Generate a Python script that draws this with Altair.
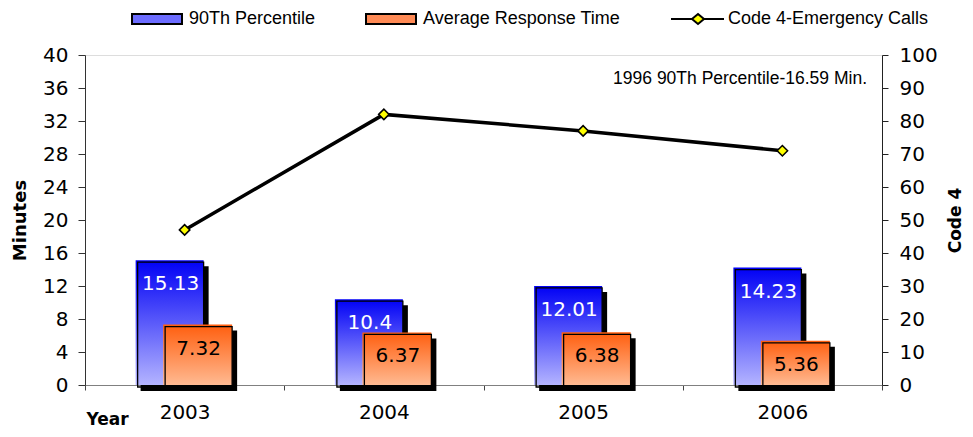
import altair as alt
import pandas as pd

years = ["2003", "2004", "2005", "2006"]
pct90 = [15.13, 10.4, 12.01, 14.23]
avg_resp = [7.32, 6.37, 6.38, 5.36]
code4 = [47, 82, 77, 71]
series_names = ["90Th Percentile", "Average Response Time", "Code 4-Emergency Calls"]
left_ticks = list(range(0, 41, 4))
right_ticks = list(range(0, 101, 10))
note = "1996 90Th Percentile-16.59 Min."

df = pd.DataFrame({
    "year": years,
    "pct90": pct90,
    "avg": avg_resp,
    "code4": code4,
    "pct90_lbl": [str(v) for v in pct90],
    "avg_lbl": [str(v) for v in avg_resp],
})
leg = pd.DataFrame({"series": series_names})
note_df = pd.DataFrame({"t": [note]})

W, H = 797, 330
NUM_FONT = "DejaVu Sans"
TXT_FONT = "Liberation Sans"

x_enc = alt.X(
    "year:N", sort=years, title="Year",
    scale=alt.Scale(paddingInner=0, paddingOuter=0),
    axis=alt.Axis(labelAngle=0, tickBand="extent", tickSize=5, labelPadding=12,
                  labelFont=NUM_FONT, labelFontSize=20, labelColor="#000",
                  domainColor="#808080", tickColor="#444",
                  titleFont=NUM_FONT, titleFontSize=17, titleFontWeight="bold",
                  titleX=22, titleY=34, titleAlign="center", titleBaseline="middle",
                  titleColor="#000"),
)

axis_left = alt.Axis(values=left_ticks, title="Minutes", grid=False, tickSize=7, labelPadding=10,
                     labelFont=NUM_FONT, labelFontSize=20, labelColor="#000",
                     domainColor="#333", tickColor="#333",
                     titleFont=NUM_FONT, titleFontSize=18, titleFontWeight="bold", titleColor="#000",
                     titleX=-65, titleY=H / 2, titleAngle=270, titleAlign="center",
                     titleBaseline="middle")
ys = alt.Scale(domain=[0, 40], nice=False)

def yl(field):
    return alt.Y(field, scale=ys, axis=axis_left)

blue_grad = alt.Gradient(gradient="linear", x1=0, x2=0, y1=0, y2=1,
                         stops=[alt.GradientStop(offset=0, color="#0000F5"),
                                alt.GradientStop(offset=1, color="#B4B4FF")])
orange_grad = alt.Gradient(gradient="linear", x1=0, x2=0, y1=0, y2=1,
                           stops=[alt.GradientStop(offset=0, color="#FF5E0E"),
                                  alt.GradientStop(offset=1, color="#FFBA92")])

base = alt.Chart(df)
BX, OX = -15, 13
BW, OW = 68, 69

blue_shadow = base.mark_bar(color="black", size=BW, xOffset=BX + 5, yOffset=6, y2Offset=0).encode(x=x_enc, y=yl("pct90:Q"))
blue_bar = base.mark_bar(color=blue_grad, size=BW, xOffset=BX).encode(x=x_enc, y=yl("pct90:Q"))
blue_outline = base.mark_bar(filled=False, stroke="black", strokeWidth=1.3, size=BW - 2,
                             xOffset=BX + 1, yOffset=2, y2Offset=0).encode(x=x_enc, y=yl("pct90:Q"))
orange_shadow = base.mark_bar(color="black", size=OW, xOffset=OX + 5, yOffset=6, y2Offset=0).encode(x=x_enc, y=yl("avg:Q"))
orange_bar = base.mark_bar(color=orange_grad, size=OW, xOffset=OX).encode(x=x_enc, y=yl("avg:Q"))
orange_outline = base.mark_bar(filled=False, stroke="black", strokeWidth=1.3, size=OW - 2,
                               xOffset=OX + 1, yOffset=2, y2Offset=0).encode(x=x_enc, y=yl("avg:Q"))
blue_text = base.mark_text(color="white", font=NUM_FONT, fontSize=20, baseline="middle",
                           dy=24, xOffset=BX + 1).encode(x=x_enc, y=yl("pct90:Q"), text="pct90_lbl:N")
orange_text = base.mark_text(color="black", font=NUM_FONT, fontSize=20, baseline="middle",
                             dy=24, xOffset=OX + 1).encode(x=x_enc, y=yl("avg:Q"), text="avg_lbl:N")

left = alt.layer(blue_shadow, blue_bar, blue_outline, orange_shadow, orange_bar, orange_outline,
                 blue_text, orange_text)

axis_right = alt.Axis(values=right_ticks, title="Code 4", orient="right", grid=False, tickSize=6,
                      labelPadding=11, labelFont=NUM_FONT, labelFontSize=20, labelColor="#000",
                      domainColor="#222", tickColor="#222",
                      titleFont=NUM_FONT, titleFontSize=17, titleFontWeight="bold", titleColor="#000",
                      titleX=73, titleY=H / 2, titleAngle=270, titleAlign="center",
                      titleBaseline="middle")
yr = alt.Y("code4:Q", scale=alt.Scale(domain=[0, 100], nice=False), axis=axis_right)
line = base.mark_line(color="black", strokeWidth=3.5).encode(x=x_enc, y=yr)
pts = base.mark_point(shape="diamond", filled=True, color="#FFFF00", stroke="black",
                      strokeWidth=1.5, size=110, opacity=1).encode(x=x_enc, y=yr)
right = alt.layer(line, pts)

rect_path = "M-1,-1H9V1H-1Z"
line_path = "M-1,0H3.2M5.6,0H9.6M4.4,-1L5.6,0L4.4,1L3.2,0Z"
legend = alt.Legend(orient="none", legendX=43, legendY=-45, direction="horizontal", title=None,
                    symbolSize=100, labelOffset=43, labelFont=TXT_FONT, labelFontSize=18,
                    labelColor="#000", symbolOpacity=1, symbolStrokeWidth=2.5,
                    columnPadding=46, labelLimit=0)
dummy = alt.Chart(leg).mark_point(opacity=0, filled=True).encode(
    fill=alt.Fill("series:N", scale=alt.Scale(domain=series_names,
                                              range=["#6C6CFF", "#FF8A55", "#FFFF00"]),
                  legend=legend),
    stroke=alt.Stroke("series:N", scale=alt.Scale(domain=series_names,
                                                  range=["#000000", "#000000", "#000000"]),
                      legend=legend),
    shape=alt.Shape("series:N", scale=alt.Scale(domain=series_names,
                                                range=[rect_path, rect_path, line_path]),
                    legend=legend),
    strokeWidth=alt.StrokeWidth("series:N", scale=alt.Scale(domain=series_names, range=[2, 2, 4]),
                                legend=legend),
)

note_layer = alt.Chart(note_df).mark_text(align="right", baseline="middle", font=TXT_FONT,
                                          fontSize=17.5, color="#000").encode(
    x=alt.value(W - 15), y=alt.value(24), text="t:N")

chart = alt.layer(left, right, note_layer, dummy).resolve_scale(y="independent").properties(
    width=W, height=H,
    autosize=alt.AutoSizeParams(type="none"),
    padding={"left": 77, "top": 47, "right": 83, "bottom": 44},
).configure_view(stroke="#999", strokeWidth=1).configure(background="white")

chart.save("out.html", embed_options={"renderer": "svg", "actions": False})
